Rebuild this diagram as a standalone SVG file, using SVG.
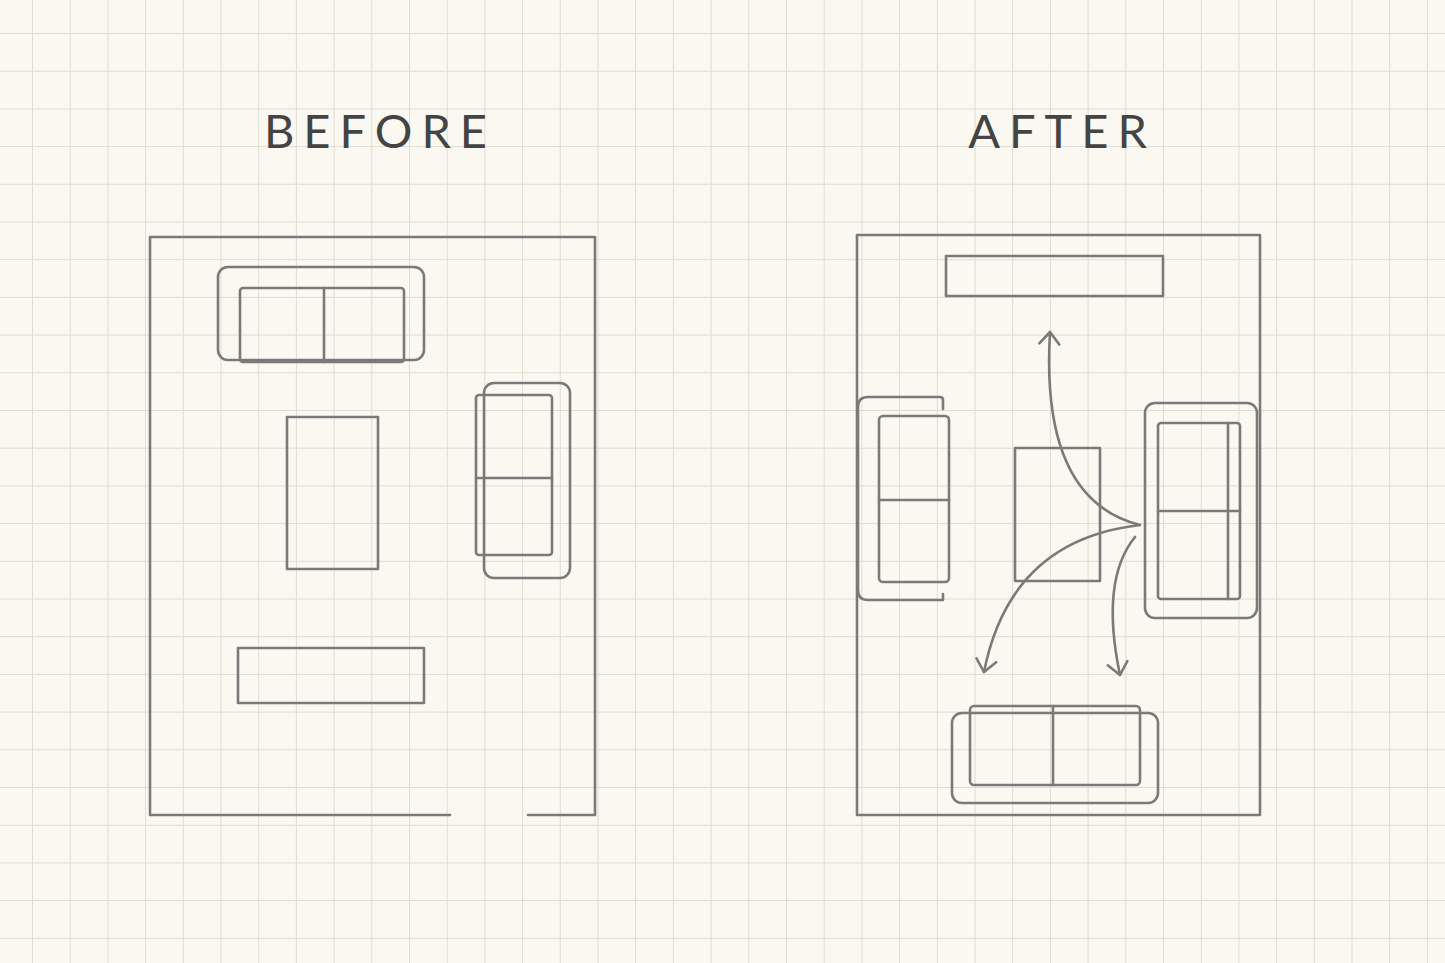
<svg xmlns="http://www.w3.org/2000/svg" width="1445" height="963" viewBox="0 0 1445 963">
<defs>
<pattern id="grid" x="32" y="33" width="37.7" height="37.7" patternUnits="userSpaceOnUse">
<path d="M0 0H37.7M0 0V37.7" fill="none" stroke="#dfdcd2" stroke-width="2"/>
</pattern>
<marker id="ah" viewBox="0 0 30 30" refX="15" refY="15" markerWidth="30" markerHeight="30" markerUnits="userSpaceOnUse" orient="auto">
<path d="M3 5L15 15L3 25" fill="none" stroke="#7a7a7a" stroke-width="2.6" stroke-linecap="round" stroke-linejoin="round"/>
</marker>
<style>
.s{fill:none;stroke:#7a7a7a;stroke-width:2.6;stroke-linecap:round;stroke-linejoin:round}
.t{font-family:Lato,"Open Sans",sans-serif;font-size:47px;letter-spacing:9px;fill:#444;text-anchor:middle}
</style>
</defs>
<rect width="1445" height="963" fill="#faf8f1"/>
<rect width="1445" height="963" fill="url(#grid)"/>
<text class="t" x="380" y="148">BEFORE</text>
<text class="t" x="1062" y="148">AFTER</text>
<g id="before">
<path class="s" d="M450 815H150V237H595V815H528"/>
<g id="b-sofa"><rect class="s" x="218" y="267" width="206" height="93" rx="10"/><rect class="s" x="240" y="288" width="164" height="74" rx="3"/><path class="s" d="M324 288V362"/></g>
<g id="b-chair"><rect class="s" x="484" y="383" width="86" height="195" rx="10"/><rect class="s" x="476" y="395" width="76" height="160" rx="3"/><path class="s" d="M476 478H552"/></g>
<rect id="b-table" class="s" x="287" y="417" width="91" height="152"/>
<rect id="b-tv" class="s" x="238" y="648" width="186" height="55"/>
</g>
<g id="after">
<rect class="s" x="857" y="235" width="403" height="580"/>
<rect id="a-tv" class="s" x="946" y="256" width="217" height="40"/>
<g id="a-left"><path class="s" d="M943 400V409M943 594V600H868Q858 600 858 590V407Q858 397 868 397H940Q943 397 943 400"/><rect class="s" x="879" y="416" width="70" height="166" rx="4"/><path class="s" d="M879 500H949"/></g>
<rect id="a-table" class="s" x="1015" y="448" width="85" height="133"/>
<g id="a-right"><rect class="s" x="1145" y="403" width="112" height="215" rx="10"/><rect class="s" x="1158" y="423" width="82" height="176" rx="3"/><path class="s" d="M1158 511H1240M1228 423V599"/></g>
<g id="a-bottom"><rect class="s" x="952" y="713" width="206" height="90" rx="10"/><rect class="s" x="970" y="706" width="170" height="79" rx="4"/><path class="s" d="M1053 706V785"/></g>
</g>
<g id="connectors">
<path class="s" d="M1140 525Q1040 500 1050 332" marker-end="url(#ah)"/>
<path class="s" d="M1140 525Q1010 540 984 672" marker-end="url(#ah)"/>
<path class="s" d="M1135 537Q1100 580 1120 675" marker-end="url(#ah)"/>
</g>
</svg>
